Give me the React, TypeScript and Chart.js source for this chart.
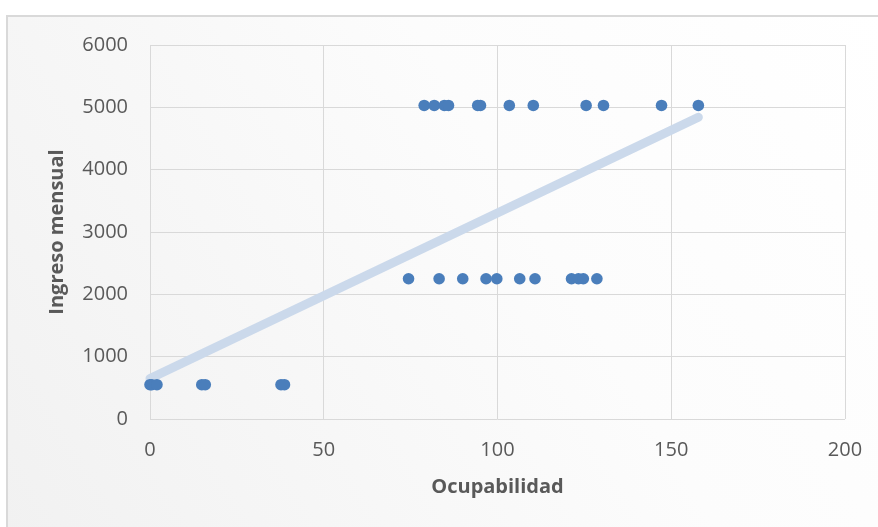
import React, { useEffect, useRef } from "react";
import { Chart, registerables } from "chart.js";

Chart.register(...registerables);

// Ocupabilidad (x) vs Ingreso mensual (y)
const lowX = [0, 0.5, 2, 14.9, 15.9, 37.7, 38.7];
const lowY = [550, 550, 550, 550, 550, 550, 550];
const midX = [74.4, 83.2, 90.0, 96.7, 99.8, 106.4, 110.8, 121.3, 123.3, 124.7, 128.6];
const midY = [2250, 2250, 2250, 2250, 2250, 2250, 2250, 2250, 2250, 2250, 2250];
const highX = [78.9, 81.8, 84.7, 85.9, 94.3, 95.1, 103.4, 110.3, 125.5, 130.5, 147.2, 157.8];
const highY = [5030, 5030, 5030, 5030, 5030, 5030, 5030, 5030, 5030, 5030, 5030, 5030];
const trendX = [0, 157.8];
const trendY = [650, 4840];

const xTicks = [0, 50, 100, 150, 200];
const yTicks = [0, 1000, 2000, 3000, 4000, 5000, 6000];

const xTitle = "Ocupabilidad";
const yTitle = "Ingreso mensual";

const pts = (xs: number[], ys: number[]) => xs.map((x, i) => ({ x, y: ys[i] }));

const bgPlugin = {
  id: "bgFrame",
  beforeDraw(chart: any) {
    const { ctx, width, height } = chart;
    ctx.save();
    const g = ctx.createLinearGradient(0, height, width, 0);
    g.addColorStop(0, "#f1f1f1");
    g.addColorStop(0.6, "#fcfcfc");
    g.addColorStop(1, "#ffffff");
    ctx.fillStyle = g;
    ctx.fillRect(7, 16, width - 7, height - 16);
    ctx.strokeStyle = "#d9d9d9";
    ctx.lineWidth = 2;
    ctx.beginPath();
    ctx.moveTo(7, height);
    ctx.lineTo(7, 16);
    ctx.lineTo(width, 16);
    ctx.stroke();
    ctx.restore();
  },
};

export default function App() {
  const ref = useRef<HTMLCanvasElement | null>(null);
  useEffect(() => {
    if (!ref.current) return;
    const pointStyle = {
      type: "scatter" as const,
      backgroundColor: "#4a7ebb",
      borderColor: "#4a7ebb",
      pointRadius: 5.8,
      pointHoverRadius: 5.8,
      borderWidth: 0,
      clip: false as any,
    };
    const chart = new Chart(ref.current, {
      type: "scatter",
      data: {
        datasets: [
          {
            type: "line",
            data: pts(trendX, trendY),
            borderColor: "#cbd9eb",
            borderWidth: 9,
            borderCapStyle: "round",
            pointRadius: 0,
            fill: false,
            order: 2,
            clip: false,
          } as any,
          { ...pointStyle, data: pts(lowX, lowY), order: 1 },
          { ...pointStyle, data: pts(midX, midY), order: 1 },
          { ...pointStyle, data: pts(highX, highY), order: 1 },
        ],
      },
      options: {
        animation: false,
        responsive: false,
        maintainAspectRatio: false,
        layout: { padding: { top: 45, right: 33, bottom: 0, left: 0 } },
        plugins: { legend: { display: false }, tooltip: { enabled: false } },
        scales: {
          x: {
            type: "linear",
            min: 0,
            max: 200,
            afterBuildTicks: (s: any) => {
              s.ticks = xTicks.map((v) => ({ value: v }));
            },
            afterFit: (s: any) => {
              s.height = 108;
              s.paddingLeft = 0;
              s.paddingRight = 0;
            },
            grid: { color: "#d9d9d9", lineWidth: 1, drawTicks: false },
            border: { display: false },
            ticks: {
              padding: 19,
              color: "#595959",
              font: { family: "'Open Sans'", size: 20 },
              callback: (v: any) => String(v),
            },
            title: {
              display: true,
              text: xTitle,
              color: "#595959",
              font: { family: "'Open Sans'", size: 20, weight: "bold" },
              padding: { top: 0, bottom: 28 },
            },
          },
          y: {
            type: "linear",
            min: 0,
            max: 6000,
            afterBuildTicks: (s: any) => {
              s.ticks = yTicks.map((v) => ({ value: v }));
            },
            afterFit: (s: any) => {
              s.width = 150;
              s.paddingTop = 0;
              s.paddingBottom = 0;
            },
            grid: { color: "#d9d9d9", lineWidth: 1, drawTicks: false },
            border: { display: false },
            ticks: {
              padding: 22,
              color: "#595959",
              font: { family: "'Open Sans'", size: 20 },
              callback: (v: any) => String(v),
            },
            title: {
              display: true,
              text: yTitle,
              color: "#595959",
              font: { family: "'Open Sans'", size: 20, weight: "bold" },
              padding: { top: 45, bottom: 0 },
            },
          },
        },
      },
      plugins: [bgPlugin],
    });
    return () => chart.destroy();
  }, []);
  return (
    <div style={{ position: "fixed", left: 0, top: 0, width: 878, height: 527 }}>
      <canvas ref={ref} width={878} height={527} style={{ display: "block", width: 878, height: 527 }} />
    </div>
  );
}
